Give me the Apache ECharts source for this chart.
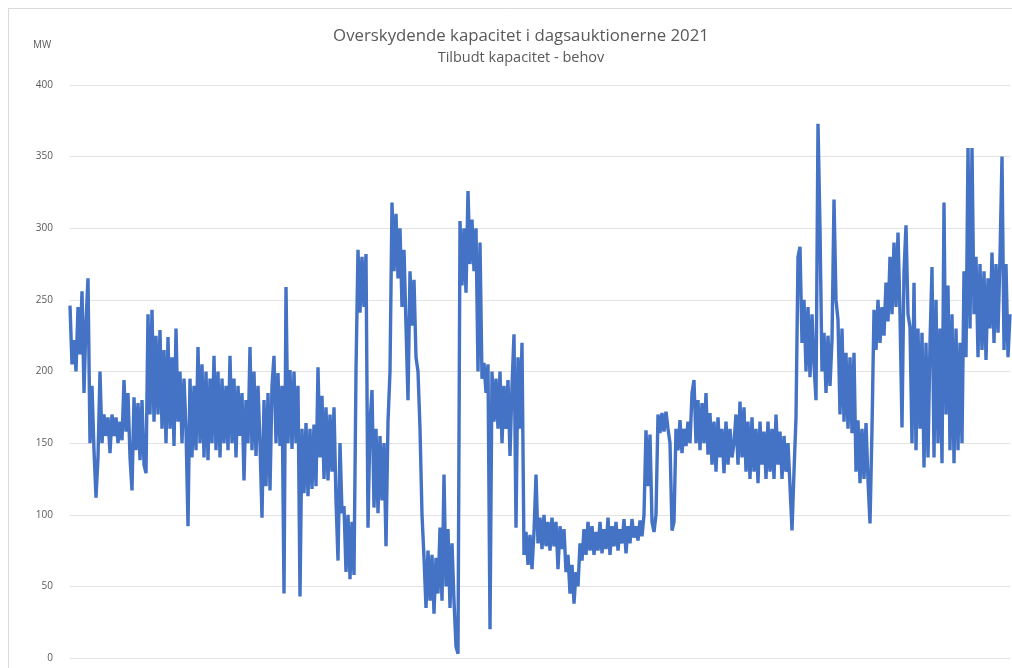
<!DOCTYPE html>
<html><head><meta charset="utf-8">
<script src="https://cdn.jsdelivr.net/npm/echarts@6/dist/echarts.min.js"></script>
<style>html,body{margin:0;padding:0;background:#fff}#c{width:1012px;height:668px}</style>
</head><body><div id="c"></div>
<script>
const titleText = 'Overskydende kapacitet i dagsauktionerne 2021';
const subtitleText = 'Tilbudt kapacitet - behov';
const yUnit = 'MW';
const yTicks = [0, 50, 100, 150, 200, 250, 300, 350, 400];
// Surplus capacity (MW) at ~2px steps across 2021
const surplus = [
 246,205,222,200,245,212,256,185,235,265,
 150,190,145,112,140,200,150,170,155,168,
 143,170,155,168,150,165,152,194,158,185,
 140,117,182,145,178,138,180,135,129,240,
 170,243,165,225,170,229,160,215,150,224,
 160,210,148,230,165,200,150,195,160,92,
 195,140,190,145,217,150,205,140,200,138,
 195,150,211,145,200,140,195,150,190,145,
 211,150,195,140,190,155,185,124,180,150,
 217,145,200,141,190,150,98,180,120,185,
 117,190,211,150,199,148,190,45,259,150,
 201,146,200,150,190,43,160,115,164,113,
 160,118,163,120,203,140,183,125,175,124,
 170,130,175,110,68,150,101,106,60,100,
 55,95,58,201,285,241,280,245,282,91,
 164,187,105,160,101,155,110,150,78,165,
 200,318,270,310,265,300,245,285,232,180,
 270,232,264,210,200,160,100,70,35,75,
 40,72,31,70,45,91,40,128,50,90,
 35,80,40,8,3,305,260,300,255,326,
 275,306,270,300,200,290,195,206,185,205,
 20,200,165,195,160,200,150,190,160,194,
 141,190,226,91,210,160,220,72,88,65,
 86,62,88,128,80,98,76,100,78,95,
 75,98,78,95,62,92,76,90,60,72,
 45,65,38,60,50,80,68,90,72,95,
 75,92,72,88,75,95,73,90,76,98,
 72,92,78,95,75,90,80,97,73,92,
 80,97,84,92,82,96,85,100,159,120,
 156,95,88,100,170,157,171,158,172,160,
 150,89,95,160,145,166,143,160,148,165,
 150,185,194,150,180,145,178,150,185,142,
 171,135,165,130,168,140,160,129,165,135,
 160,140,150,170,135,179,140,175,130,165,
 125,168,130,160,122,165,135,158,125,165,
 130,160,125,170,135,158,125,155,130,150,
 120,89,130,168,280,287,220,250,200,245,
 196,240,205,180,373,300,200,227,185,225,
 190,222,320,250,236,170,230,165,213,160,
 210,157,213,130,166,122,160,125,164,124,
 94,160,243,215,250,220,245,225,262,235,
 280,240,290,245,297,240,161,270,302,240,
 231,150,262,145,230,160,227,133,220,140,
 220,273,140,250,150,230,136,318,170,260,
 145,240,136,230,145,220,150,270,210,356,
 230,356,240,280,210,275,215,270,208,265,
 230,283,220,275,227,280,350,215,275,210,
 240
];
const categories = surplus.map((_, i) => i);

const chart = echarts.init(document.getElementById('c'));
const gray = '#595959';
chart.setOption({
  animation: false,
  backgroundColor: '#ffffff',
  title: [
    { text: titleText, left: 516, top: 23, textAlign: 'center',
      textStyle: { fontFamily: 'Open Sans', fontSize: 16.8, fontWeight: 'normal', color: gray } },
    { text: subtitleText, left: 516, top: 45, textAlign: 'center',
      textStyle: { fontFamily: 'Open Sans', fontSize: 14.5, fontWeight: 'normal', color: gray } }
  ],
  graphic: [
    { type: 'rect', shape: { x: 8.5, y: 8.5, width: 1100, height: 800 },
      style: { fill: 'none', stroke: '#d9d9d9', lineWidth: 1 }, silent: true },
    { type: 'text', left: 33, top: 40,
      style: { text: yUnit, fontFamily: 'Open Sans', fontSize: 10, fill: gray } }
  ],
  grid: { left: 70, right: 2, top: 85, bottom: 10, containLabel: false },
  xAxis: {
    type: 'category', data: categories, boundaryGap: false,
    axisLine: { show: false }, axisTick: { show: false }, axisLabel: { show: false },
    splitLine: { show: false }
  },
  yAxis: {
    type: 'value', min: yTicks[0], max: yTicks[yTicks.length - 1], interval: 50,
    axisLine: { show: false }, axisTick: { show: false },
    axisLabel: { margin: 17, fontFamily: 'Open Sans', fontSize: 10, color: gray },
    splitLine: { lineStyle: { color: '#e3e3e3', width: 1 } }
  },
  series: [{
    type: 'line', data: surplus, showSymbol: false, symbol: 'none',
    lineStyle: { color: '#4472C4', width: 3.4 }, itemStyle: { color: '#4472C4' }
  }]
});
</script></body></html>
